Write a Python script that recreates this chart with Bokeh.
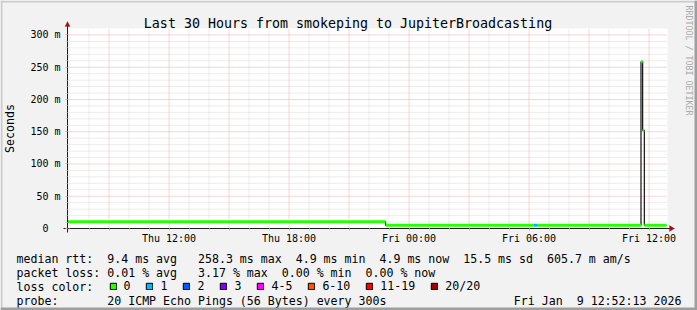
import math
from bokeh.plotting import figure
from bokeh.models import (FixedTicker, LinearAxis, Label, Legend, LegendItem,
                          PolyAnnotation, Range1d, ColumnDataSource)
from bokeh.embed import file_html
from bokeh.resources import INLINE

# ---------------- data ----------------
title_text = "Last 30 Hours from smokeping to JupiterBroadcasting"
y_axis_title = "Seconds"
watermark = "RRDTOOL / TOBI OETIKER"

# x values are hours since Thu 00:00
x_start_h = 6.925
x_end_h = 36.925
y_max = 310.0  # milliseconds

x_tick_hours = [12, 18, 24, 30, 36]
x_tick_labels = ["Thu 12:00", "Thu 18:00", "Fri 00:00", "Fri 06:00", "Fri 12:00"]
y_ticks = [0, 50, 100, 150, 200, 250, 300]
y_tick_labels = ["0\u00a0\u00a0", "50 m", "100 m", "150 m", "200 m", "250 m", "300 m"]

# median rtt as steps (ms) and the loss class of each step
seg_start = [6.925, 22.83, 30.25, 30.42, 35.60, 35.683, 35.767]
seg_end = [22.83, 30.25, 30.42, 35.60, 35.683, 35.767, 36.87]
seg_median = [10.4, 4.9, 4.9, 4.9, 258.3, 152.0, 4.9]
seg_loss = ["0", "0", "1", "0", "0", "0", "0"]

loss_labels = ["0", "1", "2", "3", "4-5", "6-10", "11-19", "20/20"]
loss_colors = ["#26FF00", "#00B8FF", "#0059FF", "#7E00FF", "#FF00FF", "#FF5500", "#FF0000", "#A10000"]

legend_line1 = ["median rtt:", "9.4 ms avg", "258.3 ms max", "4.9 ms min", "4.9 ms now", "15.5 ms sd", "605.7 m am/s"]
legend_line2 = ["packet loss:", "0.01 % avg", "3.17 % max", "0.00 % min", "0.00 % now"]
legend_line3 = ["loss color:"]
legend_line4 = ["probe:", "20 ICMP Echo Pings (56 Bytes) every 300s"]
timestamp_parts = ["Fri Jan", "9 12:52:13 2026"]

# ---------------- layout constants ----------------
W, H = 697, 310
FL, FT, FR, FB = 67, 28, 667, 228           # plot area in canvas pixels
PX_H = (FR - FL) / (x_end_h - x_start_h)     # pixels per hour
PX_MS = (FB - FT) / y_max                    # pixels per ms
MONO = "DejaVu Sans Mono"
CHAR = 6.98                                  # monospace advance at 11.6px
GRID_C = "#D9D9D9"
MGRID_C = "#F4A8A8"
AXIS_C = "#202020"
ARROW_C = "#A01010"
LINE1_COLS = [0, 13, 26, 40, 52, 64, 76]
LINE2_COLS = [0, 13, 26, 38, 50]
LINE4_COLS = [0, 13]
STAMP_X = [513.3, 576.2]

# the frame covers the whole canvas; the plot area is placed through the ranges
p = figure(width=W, height=H, output_backend="svg", toolbar_location=None,
           x_range=Range1d(x_start_h - FL / PX_H, x_start_h + (W - FL) / PX_H),
           y_range=Range1d(-(H - FB) / PX_MS, FB / PX_MS),
           x_axis_type=None, y_axis_type=None,
           min_border_left=0, min_border_right=0, min_border_top=0, min_border_bottom=0,
           background_fill_color="#F2F2F2", border_fill_color="#F2F2F2", outline_line_color=None)

# white plot canvas
p.quad(left=[x_start_h], right=[x_end_h], bottom=[0], top=[y_max], fill_color="white", line_color=None)

# grid lines from the tick lists
x_major = list(range(9, 37, 3))
x_minor = [h for h in range(7, 37) if h % 3 != 0]
y_minor = [v for v in range(10, 310, 10) if v % 50 != 0]
p.segment(x0=x_minor, y0=[0] * len(x_minor), x1=x_minor, y1=[y_max] * len(x_minor),
          line_color=GRID_C, line_width=1, line_dash="1 1")
p.segment(x0=[x_start_h] * len(y_minor), y0=y_minor, x1=[x_end_h] * len(y_minor), y1=y_minor,
          line_color=GRID_C, line_width=1, line_dash="1 1")
p.segment(x0=x_major, y0=[0] * len(x_major), x1=x_major, y1=[y_max] * len(x_major),
          line_color=MGRID_C, line_width=1, line_dash="1 1")
p.segment(x0=[x_start_h] * 6, y0=y_ticks[1:], x1=[x_end_h] * 6, y1=y_ticks[1:],
          line_color=MGRID_C, line_width=1, line_dash="1 1")

# axes (drawn at fixed locations so that they take no border space)
x_ticker = FixedTicker(ticks=x_major, minor_ticks=x_minor)
y_ticker = FixedTicker(ticks=y_ticks, minor_ticks=y_minor)
x_over = {h: "" for h in x_major}
for h, lab in zip(x_tick_hours, x_tick_labels):
    x_over[h] = lab
xaxis = LinearAxis(ticker=x_ticker, major_label_overrides=x_over, fixed_location=0,
                   bounds=(x_start_h - 4 / PX_H, x_end_h + 4 / PX_H),
                   axis_line_color=AXIS_C, major_tick_line_color=MGRID_C, minor_tick_line_color=GRID_C,
                   major_tick_out=2, major_tick_in=0, minor_tick_out=2, minor_tick_in=0,
                   major_label_standoff=2, major_label_text_font=MONO, major_label_text_font_size="10px",
                   major_label_text_color="black")
p.add_layout(xaxis, "below")

yaxis = LinearAxis(ticker=y_ticker, major_label_overrides=dict(zip(y_ticks, y_tick_labels)),
                   fixed_location=x_start_h, bounds=(-4 / PX_MS, y_max + 4 / PX_MS),
                   axis_label=y_axis_title, axis_label_text_font=MONO, axis_label_text_font_size="11.6px",
                   axis_label_text_font_style="normal", axis_label_standoff=10, axis_label_text_color="black",
                   axis_line_color=AXIS_C, major_tick_line_color=MGRID_C, minor_tick_line_color=GRID_C,
                   major_tick_out=2, major_tick_in=0, minor_tick_out=2, minor_tick_in=0,
                   major_label_standoff=5, major_label_text_font=MONO, major_label_text_font_size="10px",
                   major_label_text_color="black")
p.add_layout(yaxis, "left")

# data: dark median line with loss-coloured band
step_x = seg_start + [seg_end[-1]]
step_y = seg_median + [seg_median[-1]]
p.step(step_x, step_y, mode="after", line_color="#101010", line_width=1.2)
src = ColumnDataSource(dict(x0=seg_start, x1=seg_end, y=seg_median,
                            color=[loss_colors[loss_labels.index(l)] for l in seg_loss]))
p.segment(x0="x0", y0="y", x1="x1", y1="y", source=src, line_color="color", line_width=3, line_cap="butt")


def label(text, cx, cy, size="11.6px", align="left", baseline="alphabetic", color="black", angle=0.0):
    p.add_layout(Label(x=cx, y=H - cy, x_units="screen", y_units="screen", text=text,
                       text_font=MONO, text_font_size=size, text_align=align, text_baseline=baseline,
                       text_color=color, angle=angle))


# title and watermark
label(title_text, 347.5, 23.3, size="13.3px", align="center")
label(watermark, 688, 5, size="8.3px", baseline="middle", color="#AAAAAA", angle=-math.pi / 2)

# legend text
LX = 16
for t, c in zip(legend_line1, LINE1_COLS):
    label(t, LX + c * CHAR, 258.4)
for t, c in zip(legend_line2, LINE2_COLS):
    label(t, LX + c * CHAR, 272.4)
label(legend_line3[0], LX, 286.4)
for t, c in zip(legend_line4, LINE4_COLS):
    label(t, LX + c * CHAR, 300.4)
for t, x in zip(timestamp_parts, STAMP_X):
    label(t, x, 300.4)

# loss colour swatches (legend proxies carry no visible data)
nan = float("nan")
items = []
for lab, col in zip(loss_labels, loss_colors):
    r = p.rect(x=[nan], y=[nan], width=1, height=1, fill_color=col, line_color="black", line_width=1)
    items.append(LegendItem(label=lab, renderers=[r]))
leg = Legend(items=items, orientation="horizontal", location=(108.5, H - 293.3),
             glyph_width=8, glyph_height=8, label_standoff=7, spacing=15, padding=0, margin=0,
             label_height=8, label_width=0, border_line_color=None, background_fill_alpha=0,
             label_text_font=MONO, label_text_font_size="11.6px", label_text_color="black",
             label_text_baseline="alphabetic")
p.add_layout(leg)

# arrows at the axis ends
p.add_layout(PolyAnnotation(xs=[FL - 2.5, FL + 2.5, FL], ys=[H - 26, H - 26, H - 21],
                            xs_units="screen", ys_units="screen",
                            fill_color=ARROW_C, line_color=ARROW_C, fill_alpha=1))
p.add_layout(PolyAnnotation(xs=[FR + 2, FR + 2, FR + 7], ys=[H - FB + 3, H - FB - 3, H - FB],
                            xs_units="screen", ys_units="screen",
                            fill_color=ARROW_C, line_color=ARROW_C, fill_alpha=1))


# image frame shading
def band(x0, y0, x1, y1, color):
    p.add_layout(PolyAnnotation(xs=[x0, x1, x1, x0], ys=[H - y0, H - y0, H - y1, H - y1],
                                xs_units="screen", ys_units="screen",
                                fill_color=color, line_color=None, fill_alpha=1))


band(0, 0, W, 2, "#CBCBCB")
band(0, 0, 2, H, "#CBCBCB")
band(W - 3, 0, W, H, "#9E9E9E")
band(0, H - 3, W, H, "#9E9E9E")

open("out.html", "w").write(file_html(p, INLINE))
